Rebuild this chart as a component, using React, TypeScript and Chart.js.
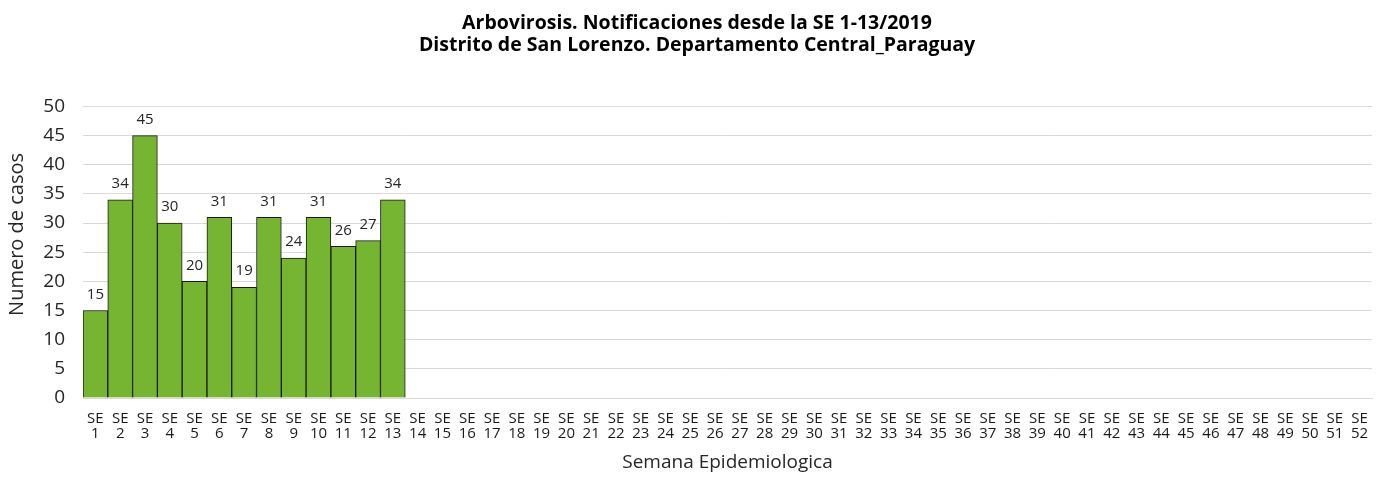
import React, { useEffect, useRef } from "react";
import { Chart, registerables } from "chart.js";

Chart.register(...registerables);

const weeks: string[] = Array.from({ length: 52 }, (_, i) => String(i + 1));
const cases: (number | null)[] = [15, 34, 45, 30, 20, 31, 19, 31, 24, 31, 26, 27, 34];
const titleLines = [
  "Arbovirosis. Notificaciones desde la SE 1-13/2019",
  "Distrito de San Lorenzo. Departamento Central_Paraguay",
];
const yTitle = "Numero de casos";
const xTitle = "Semana Epidemiologica";

const FONT = "'Open Sans', 'Noto Sans', sans-serif";

const valueLabels = {
  id: "valueLabels",
  afterDatasetsDraw(chart: any) {
    const ctx = chart.ctx;
    const meta = chart.getDatasetMeta(0);
    ctx.save();
    ctx.font = `15px ${FONT}`;
    ctx.fillStyle = "#262626";
    ctx.textAlign = "center";
    ctx.textBaseline = "middle";
    meta.data.forEach((bar: any, i: number) => {
      const v = chart.data.datasets[0].data[i];
      if (v == null) return;
      ctx.fillText(String(v), bar.x, bar.y - 16);
    });
    // y axis title
    ctx.font = `20px ${FONT}`;
    ctx.translate(17, chart.chartArea.top + 128);
    ctx.rotate(-Math.PI / 2);
    ctx.fillText(yTitle, 0, 0);
    ctx.restore();
  },
};

export default function App() {
  const ref = useRef<HTMLCanvasElement>(null);
  useEffect(() => {
    if (!ref.current) return;
    const chart = new Chart(ref.current, {
      type: "bar",
      data: {
        labels: weeks.map((w) => ["SE", w]),
        datasets: [
          {
            data: cases,
            backgroundColor: "#76b532",
            borderColor: "#1a1a1a",
            borderWidth: 1,
            barPercentage: 1,
            categoryPercentage: 1,
          },
        ],
      },
      options: {
        animation: false,
        responsive: false,
        layout: { padding: { top: 12, right: 12, left: 22, bottom: 2 } },
        plugins: {
          legend: { display: false },
          tooltip: { enabled: false },
          title: {
            display: true,
            text: titleLines,
            color: "#000",
            font: { family: FONT, size: 19.5, weight: "bold", lineHeight: 1.14 },
            padding: { top: 0, bottom: 50 },
          },
        },
        scales: {
          x: {
            grid: { display: false },
            border: { display: true, color: "#d9d9d9" },
            afterFit: (s: any) => {
              s.height = 79;
            },
            ticks: {
              color: "#1a1a1a",
              font: { family: FONT, size: 15, lineHeight: 1.0 },
              maxRotation: 0,
              autoSkip: false,
              padding: 5,
            },
            title: {
              display: true,
              text: xTitle,
              color: "#262626",
              font: { family: FONT, size: 19 },
              padding: { top: 0, bottom: 3 },
            },
          },
          y: {
            min: 0,
            max: 50,
            afterFit: (s: any) => {
              s.width = 61;
            },
            ticks: {
              stepSize: 5,
              color: "#262626",
              font: { family: FONT, size: 19 },
              padding: 18,
            },
            grid: { color: "#d9d9d9", drawTicks: false },
            border: { display: false },
          },
        },
      },
      plugins: [valueLabels],
    });
    return () => chart.destroy();
  }, []);
  return (
    <div style={{ position: "absolute", left: 0, top: 0, width: 1384, height: 479, background: "#fff" }}>
      <canvas ref={ref} width={1384} height={479} />
    </div>
  );
}
